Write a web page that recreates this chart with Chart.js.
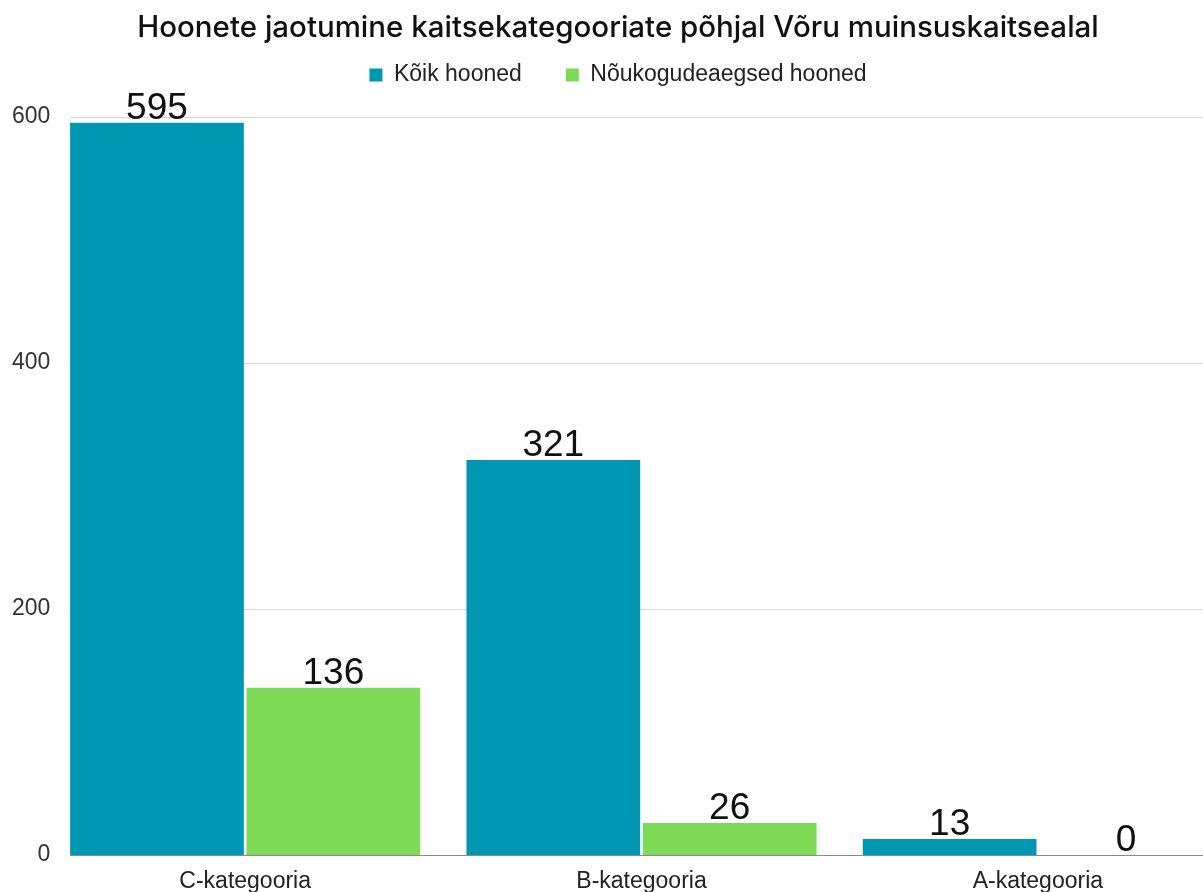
<!DOCTYPE html>
<html>
<head>
<meta charset="utf-8">
<script src="https://cdn.jsdelivr.net/npm/chart.js@4"></script>
<style>
  html, body { margin: 0; padding: 0; background: #fff; overflow: hidden; }
  #wrap { width: 1236px; height: 892px; }
</style>
</head>
<body>
<div id="wrap"><canvas id="chart"></canvas></div>
<script>
// Data
const categories = ['C-kategooria', 'B-kategooria', 'A-kategooria'];
const allBuildings = [595, 321, 13];
const sovietBuildings = [136, 26, 0];
const seriesNames = ['Kõik hooned', 'Nõukogudeaegsed hooned'];
const yTicks = [0, 200, 400, 600];

const teal = '#0097b2';
const green = '#7ed957';
const labelFont = '"Liberation Sans", Arial, sans-serif';

// Horizontal grid lines starting at the first bar, like the original
const gridPlugin = {
    id: 'gridFromBars',
    beforeDatasetsDraw(chart) {
        const ctx = chart.ctx;
        const y = chart.scales.y;
        const firstBar = chart.getDatasetMeta(0).data[0];
        const x0 = Math.round(firstBar.x - firstBar.width / 2);
        const x1 = chart.chartArea.right;
        ctx.save();
        yTicks.forEach(v => {
            const py = Math.round(y.getPixelForValue(v)) + 0.5;
            ctx.strokeStyle = v === 0 ? '#8a8a8a' : '#d6d6d6';
            ctx.lineWidth = 1.2;
            ctx.beginPath();
            ctx.moveTo(x0, py);
            ctx.lineTo(x1, py);
            ctx.stroke();
        });
        ctx.restore();
    }
};

// Value labels above bars
const valueLabels = {
    id: 'valueLabels',
    afterDatasetsDraw(chart) {
        const ctx = chart.ctx;
        ctx.save();
        ctx.font = '37px ' + labelFont;
        ctx.fillStyle = '#111';
        ctx.textAlign = 'center';
        ctx.textBaseline = 'alphabetic';
        chart.data.datasets.forEach((ds, i) => {
            chart.getDatasetMeta(i).data.forEach((bar, j) => {
                ctx.fillText(String(ds.data[j]), bar.x, bar.y - 4);
            });
        });
        ctx.restore();
    }
};

new Chart(document.getElementById('chart'), {
    type: 'bar',
    data: {
        labels: categories,
        datasets: [{
            label: seriesNames[0],
            data: allBuildings,
            backgroundColor: teal
        }, {
            label: seriesNames[1],
            data: sovietBuildings,
            backgroundColor: green
        }]
    },
    options: {
        responsive: true,
        maintainAspectRatio: false,
        animation: false,
        categoryPercentage: 0.89,
        barPercentage: 0.985,
        plugins: {
            title: {
                display: true,
                text: 'Hoonete jaotumine kaitsekategooriate põhjal Võru muinsuskaitsealal',
                color: '#111',
                font: { family: 'Inter, sans-serif', size: 29.5, weight: 500 },
                padding: { top: 10, bottom: -26 }
            },
            legend: {
                position: 'top',
                labels: {
                    color: '#222',
                    font: { family: labelFont, size: 23 },
                    boxWidth: 13,
                    boxHeight: 13,
                    padding: 44
                }
            },
            tooltip: { enabled: false }
        },
        scales: {
            x: {
                grid: { display: false, drawTicks: false },
                border: { display: false },
                ticks: {
                    color: '#222',
                    font: { family: labelFont, size: 23 },
                    padding: 13
                },
                afterFit(scale) { scale.height = 37; }
            },
            y: {
                min: 0,
                max: 616.5,
                grid: { display: false, drawTicks: false },
                border: { display: false },
                afterBuildTicks(scale) {
                    scale.ticks = yTicks.map(v => ({ value: v }));
                },
                ticks: {
                    color: '#333',
                    font: { family: labelFont, size: 23 },
                    mirror: true,
                    crossAlign: 'far',
                    padding: -35
                },
                afterFit(scale) { scale.width = 47; }
            }
        }
    },
    plugins: [gridPlugin, valueLabels]
});
</script>
</body>
</html>
